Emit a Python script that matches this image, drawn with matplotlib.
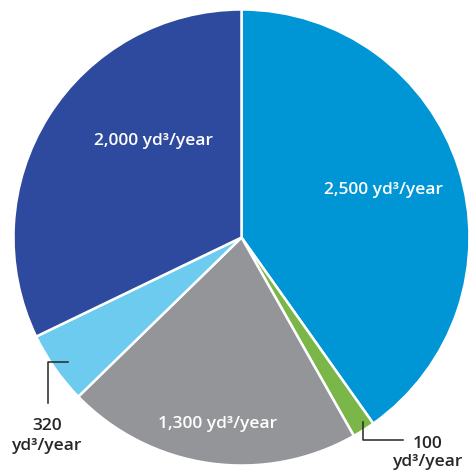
import matplotlib.pyplot as plt

# volumes, clockwise from 12 o'clock
values = [2500, 100, 1300, 320, 2000]
labels = ["2,500 yd³/year", "100\nyd³/year", "1,300 yd³/year", "320\nyd³/year", "2,000 yd³/year"]
colors = ["#0096d6", "#7ab648", "#939598", "#6dcbf0", "#2e4a9e"]

plt.rcParams['font.family'] = ['Open Sans', 'DejaVu Sans']

W, H = 469, 474
fig = plt.figure(figsize=(W / 100, H / 100), dpi=100)
ax = fig.add_axes([0, 0, 1, 1])

cx, cy, r = 241.5, H - 237.5, 228
ax.pie(values, colors=colors, startangle=90, counterclock=False,
       center=(cx, cy), radius=r,
       wedgeprops=dict(edgecolor="white", linewidth=1.8))

ax.set_xlim(0, W)
ax.set_ylim(0, H)
ax.set_aspect("equal")
ax.axis("off")

fs = 12.5
fw = "semibold"
# labels inside the slices
ax.text(383, H - 190, labels[0], color="white", fontsize=fs, fontweight=fw, ha="center", va="center")
ax.text(153, H - 141, labels[4], color="white", fontsize=fs, fontweight=fw, ha="center", va="center")
ax.text(218, H - 424, labels[2], color="white", fontsize=fs, fontweight=fw, ha="center", va="center")

# labels outside with leader lines
dark = "#262626"
ax.text(47, H - 436, labels[3], color=dark, fontsize=fs, fontweight=fw, ha="center", va="center",
        linespacing=1.25)
ax.plot([68, 48, 48], [H - 362, H - 362, H - 403], color=dark, lw=1.1)

ax.text(428, H - 453, labels[1], color=dark, fontsize=fs, fontweight=fw, ha="center", va="center",
        linespacing=1.25)
ax.plot([363, 363, 403], [H - 422, H - 440, H - 440], color=dark, lw=1.1)

fig.savefig("out.png", dpi=100)
